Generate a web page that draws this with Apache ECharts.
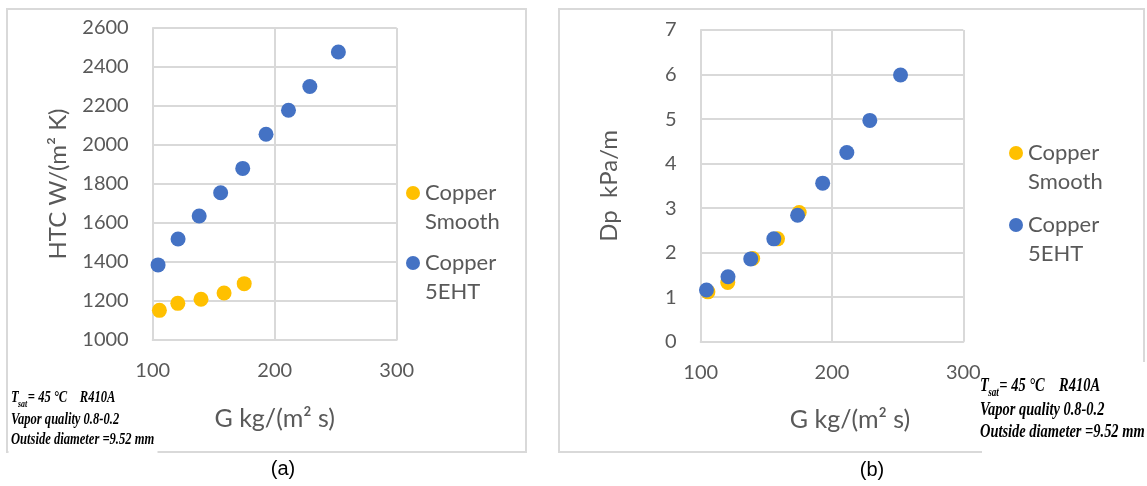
<!DOCTYPE html>
<html>
<head>
<meta charset="utf-8">
<script src="https://cdn.jsdelivr.net/npm/echarts@6/dist/echarts.min.js"></script>
<style>
  html, body { margin: 0; padding: 0; background: #fff; }
  #chart { width: 1147px; height: 486px; }
</style>
</head>
<body>
<div id="chart"></div>
<script>
// mass flux G (kg/(m2 s))
const gSmooth = [105.5, 120.6, 139.6, 158.5, 175.0];
const gEht = [104.4, 120.8, 138.1, 155.7, 173.8, 192.9, 211.3, 228.8, 252.2];
// (a) heat transfer coefficient
const htcSmooth = [1152, 1188, 1209, 1241, 1289];
const htcEht = [1385, 1518, 1636, 1755, 1880, 2055, 2178, 2300, 2477];
// (b) pressure drop
const dpSmooth = [1.12, 1.33, 1.87, 2.31, 2.90];
const dpEht = [1.16, 1.46, 1.86, 2.31, 2.84, 3.56, 4.25, 4.97, 5.99];

const seriesNames = ["Copper Smooth", "Copper 5EHT"];
const grey = "#595959";
const gridGrey = "#d9d9d9";
const sans = "Lato";
const serifFont = '"Liberation Serif"';

function pairs(xs, ys) {
  return xs.map((x, i) => [x, ys[i]]);
}

function xAxisCfg(idx, nameShift) {
  return {
    type: "value",
    gridIndex: idx,
    min: 100,
    max: 300,
    interval: 100,
    name: "G kg/(m² s)",
    nameLocation: "middle",
    nameGap: 66,
    nameTextStyle: {
      color: grey,
      fontFamily: sans,
      fontSize: 25,
      padding: [0, 0, 0, nameShift],
    },
    axisLine: { show: true, lineStyle: { color: gridGrey, width: 2 } },
    axisTick: { show: false },
    axisLabel: { color: grey, fontFamily: sans, fontSize: 20, margin: 21 },
    splitLine: { show: true, lineStyle: { color: gridGrey, width: 2 } },
  };
}

function yAxisCfg(idx, name, min, max, step, gap) {
  return {
    type: "value",
    gridIndex: idx,
    min: min,
    max: max,
    interval: step,
    name: name,
    nameLocation: "middle",
    nameGap: gap,
    nameTextStyle: { color: grey, fontFamily: sans, fontSize: 24 },
    axisLine: { show: true, lineStyle: { color: gridGrey, width: 2 } },
    axisTick: { show: false },
    axisLabel: {
      color: grey,
      fontFamily: sans,
      fontSize: 20,
      margin: 24,
      formatter: (v) => String(v),
    },
    splitLine: { show: true, lineStyle: { color: gridGrey, width: 2 } },
  };
}

function scatter(name, idx, data, color) {
  return {
    name: name,
    type: "scatter",
    xAxisIndex: idx,
    yAxisIndex: idx,
    symbol: "circle",
    symbolSize: 15,
    itemStyle: { color: color, opacity: 1 },
    emphasis: { disabled: true },
    data: data,
  };
}

function legendCfg(left, top, gap) {
  return {
    orient: "vertical",
    left: left,
    top: top,
    padding: 0,
    itemGap: gap,
    itemWidth: 14,
    itemHeight: 14,
    icon: "circle",
    data: seriesNames,
    // leading blank line so the marker sits level with the first word
    formatter: (n) => "\n" + n.replace(" ", "\n"),
    textStyle: {
      color: grey,
      fontFamily: sans,
      fontSize: 22,
      lineHeight: 29,
    },
  };
}

// annotation block: T_sat line + two lines, squeezed like the original
function note(x, size, sx, ys) {
  const f = "bold italic " + size + "px " + serifFont;
  const fs = "bold italic " + Math.round(size * 0.62) + "px " + serifFont;
  const tw = size * 0.62;
  return {
    type: "group",
    x: x,
    y: 0,
    scaleX: sx,
    children: [
      { type: "text", x: 0, y: ys[0], style: { text: "T", font: f, fill: "#000", verticalAlign: "middle" } },
      { type: "text", x: tw - 1, y: ys[0] + size * 0.38, style: { text: "sat", font: fs, fill: "#000", verticalAlign: "middle" } },
      { type: "text", x: tw + size * 0.72, y: ys[0], style: { text: "= 45 °C    R410A", font: f, fill: "#000", verticalAlign: "middle" } },
      { type: "text", x: 0, y: ys[1], style: { text: "Vapor quality 0.8-0.2", font: f, fill: "#000", verticalAlign: "middle" } },
      { type: "text", x: 0, y: ys[2], style: { text: "Outside diameter =9.52 mm", font: f, fill: "#000", verticalAlign: "middle" } },
    ],
  };
}

const myChart = echarts.init(document.getElementById("chart"));
myChart.setOption({
  backgroundColor: "#fff",
  animation: false,
  grid: [
    { left: 152.7, right: 750.3, top: 28, bottom: 146, outerBoundsMode: "none" },
    { left: 700.7, right: 183.7, top: 30, bottom: 144.3, outerBoundsMode: "none" },
  ],
  xAxis: [xAxisCfg(0, 0), xAxisCfg(1, 36)],
  yAxis: [
    yAxisCfg(0, "HTC W/(m² K)", 1000, 2600, 200, 82),
    yAxisCfg(1, "Dp  kPa/m", 0, 7, 1, 79),
  ],
  legend: [legendCfg(406, 149.5, -17), legendCfg(1009, 109.5, -15)],
  series: [
    scatter(seriesNames[0], 0, pairs(gSmooth, htcSmooth), "#FFC000"),
    scatter(seriesNames[1], 0, pairs(gEht, htcEht), "#4472C4"),
    scatter(seriesNames[0], 1, pairs(gSmooth, dpSmooth), "#FFC000"),
    scatter(seriesNames[1], 1, pairs(gEht, dpEht), "#4472C4"),
  ],
  graphic: [
    // panel frames
    { type: "rect", z: -10, shape: { x: 7, y: 9, width: 519, height: 443 }, style: { fill: null, stroke: gridGrey, lineWidth: 2 } },
    { type: "rect", z: -10, shape: { x: 559, y: 9, width: 585, height: 443 }, style: { fill: null, stroke: gridGrey, lineWidth: 2 } },
    // white boxes behind the notes
    { type: "rect", z: -9, shape: { x: 8.5, y: 382, width: 149, height: 80 }, style: { fill: "#fff" } },
    { type: "rect", z: -9, shape: { x: 982, y: 362, width: 170, height: 100 }, style: { fill: "#fff" } },
    note(11, 16, 0.785, [398, 420, 440]),
    note(980, 19, 0.76, [386, 410, 432]),
    { type: "text", x: 283, y: 469, style: { text: "(a)", font: '20px "Liberation Sans"', fill: "#000", align: "center", verticalAlign: "middle" } },
    { type: "text", x: 872, y: 470, style: { text: "(b)", font: '20px "Liberation Sans"', fill: "#000", align: "center", verticalAlign: "middle" } },
  ],
});
</script>
</body>
</html>
